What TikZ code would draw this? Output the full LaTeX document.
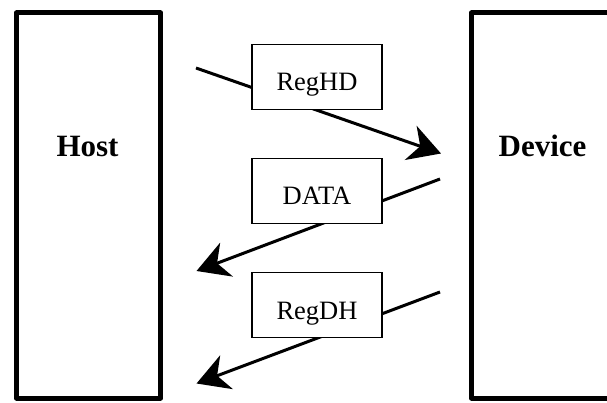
\documentclass[tikz,border=0pt]{standalone}
\usepackage{fontspec}
\setmainfont{Liberation Serif}
\usetikzlibrary{arrows.meta}
\begin{document}
\begin{tikzpicture}[x=1pt,y=-1pt,
  bigbox/.style={draw,line width=5pt,line join=round,rectangle,inner sep=0pt},
  msgbox/.style={draw,line width=1.5pt,fill=white,rectangle,inner sep=0pt,minimum width=130pt,minimum height=65pt,text height=30pt,text depth=2pt,font=\fontsize{26.5}{30}\selectfont},
  biglabel/.style={anchor=base,font=\fontsize{31}{34}\selectfont\bfseries},
  msg/.style={line width=3pt,-{Stealth[length=32pt,width=36pt,inset=10pt]}}]
\useasboundingbox (0,0) rectangle (607,403);
\clip (0,0) rectangle (607,403);
\node[bigbox,minimum width=144pt,minimum height=385pt] (host) at (88.5,205.5) {};
\node[bigbox,minimum width=180pt,minimum height=385pt] (device) at (561.5,205.5) {};
\node[biglabel] (hostlbl) at (87.5,157) {Host};
\node[biglabel] (devlbl) at (542.5,157) {Device};
\coordinate (a1s) at (196,68);
\coordinate (a1e) at (441,153.5);
\coordinate (a2s) at (440,179);
\coordinate (a2e) at (196.5,271);
\coordinate (a3s) at (440,292);
\coordinate (a3e) at (196.5,383.5);
\draw[msg] (a1s) -- (a1e);
\draw[msg] (a2s) -- (a2e);
\draw[msg] (a3s) -- (a3e);
\node[msgbox] (reghd) at (317,77) {RegHD};
\node[msgbox] (data) at (317,191) {DATA};
\node[msgbox] (regdh) at (317,305) {RegDH};
\end{tikzpicture}
\end{document}
